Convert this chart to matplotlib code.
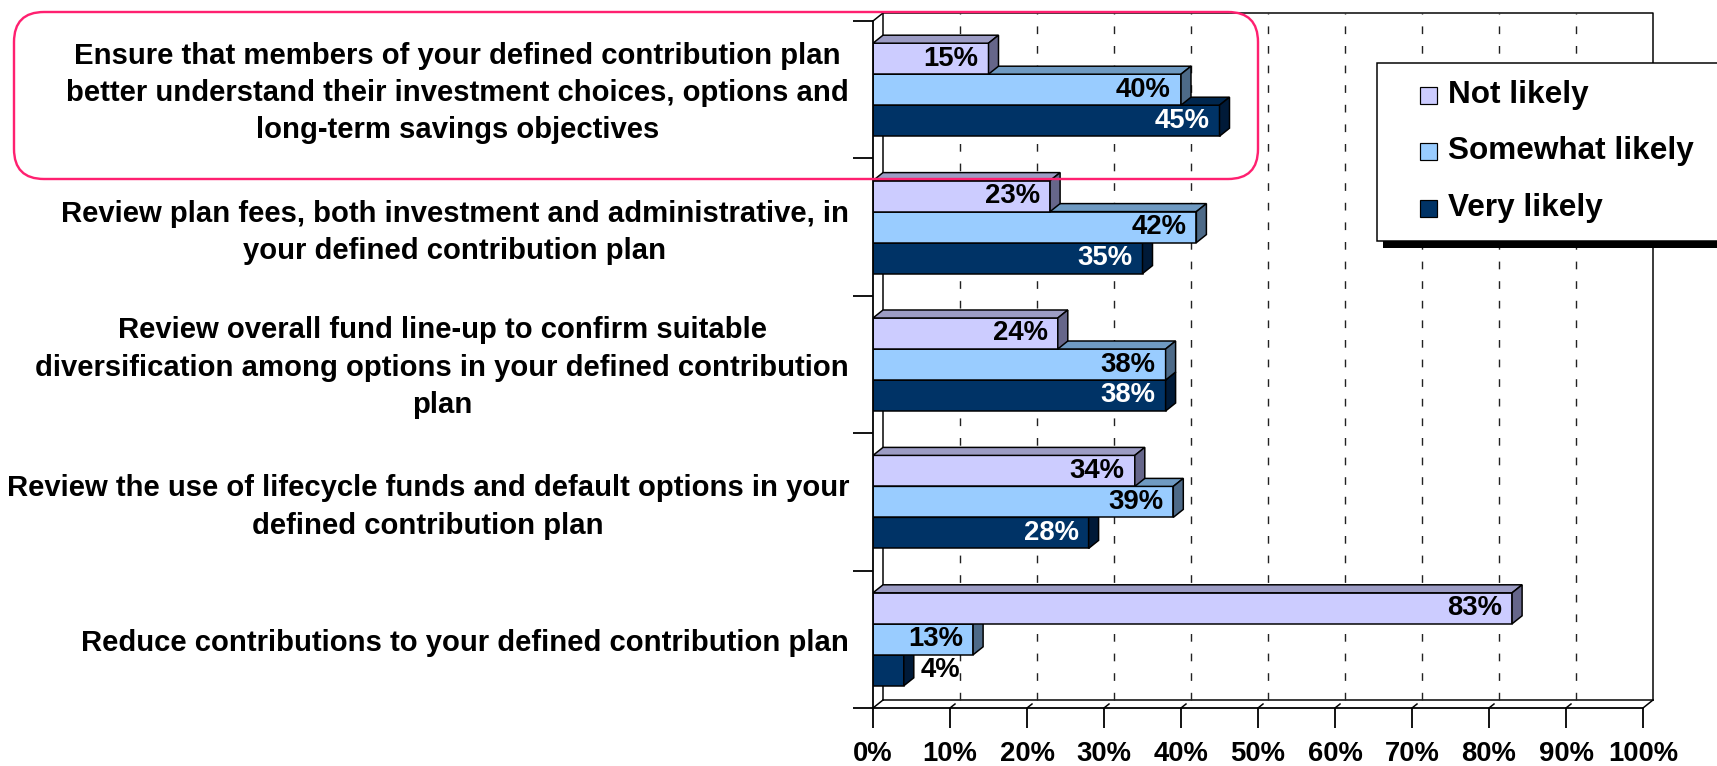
import numpy as np
import matplotlib.pyplot as plt
import matplotlib.transforms as mtransforms
from matplotlib.patches import Polygon, Rectangle, FancyBboxPatch

plt.rcParams['font.family'] = ['Liberation Sans', 'DejaVu Sans']
plt.rcParams['font.weight'] = 'bold'

categories = [
    "Ensure that members of your defined contribution plan\n"
    "better understand their investment choices, options and\n"
    "long-term savings objectives",
    "Review plan fees, both investment and administrative, in\n"
    "your defined contribution plan",
    "Review overall fund line-up to confirm suitable\n"
    "diversification among options in your defined contribution\n"
    "plan",
    "Review the use of lifecycle funds and default options in your\n"
    "defined contribution plan",
    "Reduce contributions to your defined contribution plan",
]
series = ["Not likely", "Somewhat likely", "Very likely"]
not_likely = [15, 23, 24, 34, 83]
somewhat_likely = [40, 42, 38, 39, 13]
very_likely = [45, 35, 38, 28, 4]
x_ticks = [0, 10, 20, 30, 40, 50, 60, 70, 80, 90, 100]

# front / top / side shading of each series
face = ['#CCCCFF', '#99CCFF', '#003366']
top = ['#9C9CC4', '#6F9AC2', '#00264D']
side = ['#66668A', '#4D6A88', '#001A38']
text_col = ['black', 'black', 'white']

W, H = 1717, 766
PT = 0.72  # points per pixel at dpi 100

fig = plt.figure(figsize=(W / 100, H / 100), dpi=100)
ax = fig.add_axes([873 / W, (H - 708) / H, 770 / W, 687 / H])
ax.set_xlim(0, 100)
ax.set_ylim(0, 5)
ax.patch.set_visible(False)

n = len(categories)
DX = 10 / 770 * 100      # depth offset in x units
DY = 8 / 687 * n         # depth offset in y units
BH = 31 / 687 * n        # bar thickness

lw = 1.5 * PT
# back wall, left wall and floor
ax.plot([DX, DX, 100 + DX, 100 + DX], [DY, n + DY, n + DY, DY], color='black', lw=lw, clip_on=False, zorder=1)
ax.plot([DX, 100 + DX], [DY, DY], color='black', lw=lw, clip_on=False, zorder=1)
ax.plot([0, DX], [n, n + DY], color='black', lw=lw, clip_on=False, zorder=1)
ax.plot([0, DX], [0, DY], color='black', lw=lw, clip_on=False, zorder=1)
ax.plot([100, 100 + DX], [0, DY], color='black', lw=lw, clip_on=False, zorder=1)
for t in x_ticks[1:-1]:
    ax.plot([t + DX, t + DX], [DY, n + DY], color='#222222', lw=1.4 * PT,
            dashes=(5.5, 8.5), clip_on=False, zorder=1)
    ax.plot([t, t + DX * 0.5], [0, DY * 0.5], color='black', lw=lw, clip_on=False, zorder=1)

values = [not_likely, somewhat_likely, very_likely]
centers = np.arange(n)[::-1] + 0.5
for j, vals in enumerate(values):
    z = 5 - j
    yc = centers + BH - j * BH
    ax.barh(yc, vals, height=BH, color=face[j], edgecolor='black', linewidth=lw, zorder=z)
    for y, v in zip(yc, vals):
        y0, y1 = y - BH / 2, y + BH / 2
        ax.add_patch(Polygon([(0, y1), (v, y1), (v + DX, y1 + DY), (DX, y1 + DY)],
                             facecolor=top[j], edgecolor='black', lw=lw, zorder=z))
        ax.add_patch(Polygon([(v, y0), (v, y1), (v + DX, y1 + DY), (v + DX, y0 + DY)],
                             facecolor=side[j], edgecolor='black', lw=lw, zorder=z))
        if v < 8:
            ax.text(v + DX + 0.9, y, f"{v}%", ha='left', va='center',
                    fontsize=27.5 * PT, color='black', zorder=10)
        else:
            ax.text(v - 1.3, y, f"{v}%", ha='right', va='center',
                    fontsize=27.5 * PT, color=text_col[j], zorder=10)

for s in ['top', 'right']:
    ax.spines[s].set_visible(False)
for s in ['left', 'bottom']:
    ax.spines[s].set_linewidth(1.8 * PT)
    ax.spines[s].set_zorder(6)

ax.set_xticks(x_ticks)
ax.set_xticklabels([f"{t}%" for t in x_ticks])
ax.tick_params(axis='x', length=20 * PT, width=1.8 * PT, pad=13 * PT, labelsize=27.5 * PT)
ax.set_yticks(centers)
ax.set_yticklabels(categories)
ax.set_yticks(np.arange(n + 1), minor=True)
ax.tick_params(axis='y', which='major', length=0, pad=24 * PT, labelsize=29.2 * PT)
ax.tick_params(axis='y', which='minor', length=20 * PT, width=1.8 * PT)
for lab in ax.get_yticklabels():
    lab.set_multialignment('center')
    lab.set_linespacing(1.42)
    # nudge multi-line labels up so the block sits on the band centre
    nl = lab.get_text().count('\n')
    shift = {0: -1.0, 1: 2.5, 2: 4.5}[nl]
    lab.set_transform(lab.get_transform() +
                      mtransforms.ScaledTranslation(0, shift / 100, fig.dpi_scale_trans))

# overlay in pixel units for the highlight box and the legend
ov = fig.add_axes([0, 0, 1, 1], zorder=10)
ov.set_xlim(0, W)
ov.set_ylim(H, 0)
ov.axis('off')
ov.patch.set_visible(False)

ov.add_patch(FancyBboxPatch((14, 12), 1244, 167, boxstyle="round,pad=0,rounding_size=30",
                            facecolor='none', edgecolor='#FF2070', lw=2.4 * PT))

ov.add_patch(Rectangle((1383, 69), 400, 179, facecolor='black', edgecolor='none'))
ov.add_patch(Rectangle((1377, 63), 400, 178, facecolor='white', edgecolor='black', lw=1.5 * PT))
for j, name in enumerate(series):
    yy = 95 + j * 56.5
    ov.add_patch(Rectangle((1420, yy - 8.5), 17, 17, facecolor=face[j], edgecolor='black', lw=1.2 * PT))
    ov.text(1448, yy, name, ha='left', va='center', fontsize=31.5 * PT)

fig.savefig('out.png', dpi=100)
